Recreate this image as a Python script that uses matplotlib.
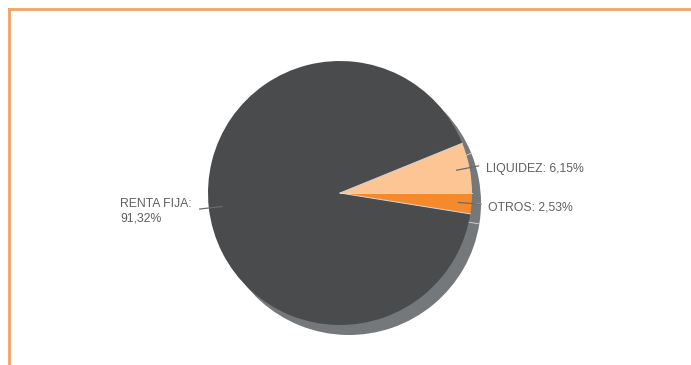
import numpy as np
import matplotlib.pyplot as plt
from matplotlib.lines import Line2D

# data
labels = ["OTROS", "LIQUIDEZ", "RENTA FIJA"]
values = [2.53, 6.15, 91.32]
colors = ["#f58a2c", "#fdc594", "#4a4b4d"]
shadow_color = "#75787b"
text_color = "#5f5f5f"

W, H = 691, 365
fig = plt.figure(figsize=(W / 100, H / 100), dpi=100)
ax = fig.add_axes([0, 0, 1, 1])

cx, cy = 340, H - 193
R = 132
start = -values[0] / 100 * 360

# shadow
ax.pie(values, colors=[shadow_color] * 3, startangle=start, counterclock=True,
       center=(cx + 9, cy - 10), radius=R, frame=True,
       wedgeprops=dict(linewidth=0, zorder=1))
# main pie
ax.pie(values, colors=colors, startangle=start, counterclock=True,
       center=(cx, cy), radius=R, frame=True,
       wedgeprops=dict(linewidth=0, zorder=3))
ax.set_xlim(0, W)
ax.set_ylim(0, H)
ax.axis("off")

# slice boundaries
bounds = start + np.cumsum([0] + values[:-1]) / 100 * 360
for a in bounds:
    t = np.deg2rad(a)
    ax.plot([cx + 9, cx + 9 + R * np.cos(t)], [cy - 10, cy - 10 + R * np.sin(t)],
            color="#c8c8c8", lw=0.7, zorder=2)
    ax.plot([cx, cx + R * np.cos(t)], [cy, cy + R * np.sin(t)],
            color="#d8d8d8", lw=0.7, zorder=4)

# labels with leader lines
cum = start
for lab, v in zip(labels, values):
    mid = np.deg2rad(cum + v / 100 * 360 / 2)
    cum += v / 100 * 360
    x0, y0 = cx + 0.9 * R * np.cos(mid), cy + 0.9 * R * np.sin(mid)
    x1, y1 = cx + 1.07 * R * np.cos(mid), cy + 1.07 * R * np.sin(mid)
    ax.add_line(Line2D([x0, x1], [y0, y1], color="#6a6a6a", lw=0.9, zorder=5))
    val = f"{v:.2f}".replace(".", ",") + "%"
    if np.cos(mid) >= 0:
        ax.text(x1 + 7, y1 - 3, f"{lab}: {val}", ha="left", va="center",
                fontsize=8.8, color=text_color, family="Liberation Sans")
    else:
        ax.text(x1 - 8, y1 - 2, f"{lab}:\n{val}", ha="right", va="center",
                multialignment="left", fontsize=8.8, color=text_color,
                family="Liberation Sans", linespacing=1.3)

# orange frame
ax.add_line(Line2D([9, W], [H - 9, H - 9], color="#f4a262", lw=2))
ax.add_line(Line2D([9, 9], [0, H - 9], color="#f4a262", lw=2))

fig.savefig("out.png", dpi=100)
